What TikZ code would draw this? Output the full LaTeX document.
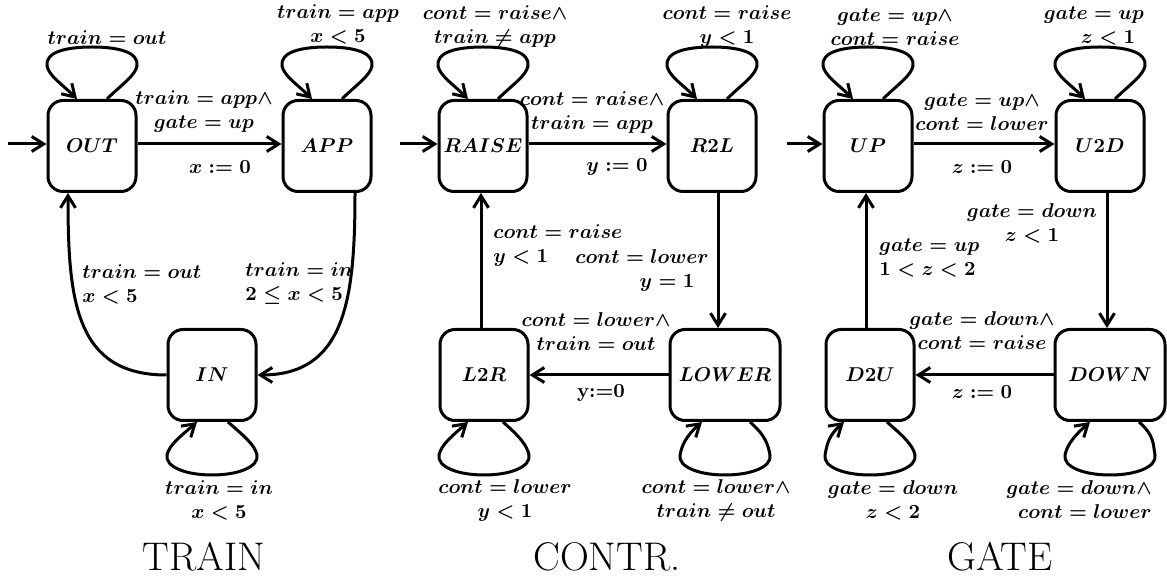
\documentclass[tikz,border=0pt]{standalone}
\usetikzlibrary{arrows.meta,calc}
\tikzset{
  state/.style={draw, line width=1.5pt, rounded corners=7.5pt, minimum width=44pt, minimum height=45.5pt, inner sep=2pt, font=\fontsize{10.2}{13}\selectfont\boldmath},
  wide/.style={minimum width=55pt},
  edge/.style={line width=1.5pt, -{Straight Barb[length=6pt,width=7.5pt]}},
  lab/.style={font=\fontsize{10}{12}\selectfont\boldmath, inner sep=0pt, align=center},
  ttl/.style={font=\fontsize{20}{24}\selectfont, inner sep=0pt},
}
\newcommand\TopLoop[1]{\draw[edge] ($(#1.north)+(15,0)$) .. controls +(14,-14) and +(-2,10) .. ($(#1.north)+(45,-33)$) .. controls +(2,-14) and +(26,0) .. ($(#1.north)+(0,-52)$) .. controls +(-26,0) and +(-2,-14) .. ($(#1.north)+(-45,-33)$) .. controls +(2,10) and +(-14,-14) .. ($(#1.north)+(-15,0)$);}
\newcommand\BotLoop[3]{\draw[edge] ($(#1.south)+(#2,0)$) .. controls +(16,14) and +(-2,-10) .. ($(#1.south)+(45,33)$) .. controls +(2,12) and +(26,0) .. ($(#1.south)+(0,53)$) .. controls +(-26,0) and +(-2,12) .. ($(#1.south)+(-45,33)$) .. controls +(2,-10) and +(-16,14) .. ($(#1.south)+(#3,0)$);}
\begin{document}
\begin{tikzpicture}[x=0.5pt,y=-0.5pt]
\useasboundingbox (0,0) rectangle (1167,576);
% ---------------- TRAIN
\node[state] (OUT) at (92,146) {$OUT$};
\node[state] (APP) at (327,146) {$APP$};
\node[state] (IN) at (212,375) {$IN$};
\coordinate (i1) at (8,144);
\draw[edge] (i1) -- (i1 -| OUT.west);
\draw[edge] ([yshift=1pt]OUT.east) -- ([yshift=1pt]APP.west);
\draw[edge] (IN.west) .. controls (75,375) and (68,300) .. ($(OUT.south)+(-24,0)$);
\draw[edge] ($(APP.south)+(28,0)$) .. controls (355,300) and (345,375) .. (IN.east);
\TopLoop{OUT}
\TopLoop{APP}
\BotLoop{IN}{16}{-15}
\node[lab] (l1) at (107,38) {$train = out$};
\node[lab] (l2) at (338,24) {$train = app$\\$x < 5$};
\node[lab] (l3) at (204,112) {$train = app\wedge$\\$gate = up$};
\node[lab] (l4) at (220,167) {$x := 0$};
\node[lab, anchor=west, align=left] (l5) at (82,284) {$train = out$\\$x < 5$};
\node[lab, anchor=west, align=left] (l6) at (245,284) {$train = in$\\$2 \leq x < 5$};
\node[lab] (l7) at (219,500) {$train = in$\\$x < 5$};
\node[ttl] (t1) at (204,557) {TRAIN};
% ---------------- CONTR.
\node[state] (RAISE) at (483,146) {$RAISE$};
\node[state] (R2L) at (712,146) {$R2L$};
\node[state] (L2R) at (484,375) {$L2R$};
\node[state, wide] (LOWER) at (725,375) {$LOWER$};
\coordinate (i2) at (400,144);
\draw[edge] (i2) -- (i2 -| RAISE.west);
\draw[edge] ([yshift=1pt]RAISE.east) -- ([yshift=1pt]R2L.west);
\coordinate (r2lb) at ($(R2L.south)+(6,0)$);
\draw[edge] (r2lb) -- (r2lb |- LOWER.north);
\draw[edge] (LOWER) -- (L2R);
\coordinate (l2rt) at ($(L2R.north)+(-3,0)$);
\draw[edge] (l2rt) -- (l2rt |- RAISE.south);
\TopLoop{RAISE}
\TopLoop{R2L}
\BotLoop{L2R}{19}{-16}
\BotLoop{LOWER}{25}{-23}
\node[lab] (c1) at (495,27) {$cont = raise\wedge$\\$train \neq app$};
\node[lab] (c2) at (727,27) {$cont = raise$\\$y < 1$};
\node[lab] (c3) at (592,113) {$cont = raise\wedge$\\$train = app$};
\node[lab] (c4) at (617,167) {$y := 0$};
\node[lab, anchor=west, align=left] (c5) at (493,246) {$cont = raise$\\$y < 1$};
\node[lab] (c6) at (642,271) {$cont = lower$\\\hspace*{25pt}$y = 1$};
\node[lab] (c7) at (596,332) {$cont = lower\wedge$\\$train = out$};
\node[lab] (c8) at (601,393) {\textbf{y:=0}};
\node[lab] (c9) at (505,501) {$cont = lower$\\$y < 1$};
\node[lab] (c10) at (716,501) {$cont = lower\wedge$\\$train \neq out$};
\node[ttl] (t2) at (607,557) {CONTR.};
% ---------------- GATE
\node[state] (UP) at (868,146) {$UP$};
\node[state] (U2D) at (1100,146) {$U2D$};
\node[state] (D2U) at (870,375) {$D2U$};
\node[state, wide] (DOWN) at (1110,375) {$DOWN$};
\coordinate (i3) at (787,144);
\draw[edge] (i3) -- (i3 -| UP.west);
\draw[edge] ([yshift=1pt]UP.east) -- ([yshift=1pt]U2D.west);
\coordinate (u2db) at ($(U2D.south)+(7,0)$);
\draw[edge] (u2db) -- (u2db |- DOWN.north);
\draw[edge] (DOWN) -- (D2U);
\coordinate (d2ut) at ($(D2U.north)+(-4,0)$);
\draw[edge] (d2ut) -- (d2ut |- UP.south);
\TopLoop{UP}
\TopLoop{U2D}
\BotLoop{D2U}{17}{-26}
\BotLoop{DOWN}{29}{-20}
\node[lab] (g1) at (895,27) {$gate = up\wedge$\\$cont = raise$};
\node[lab] (g2) at (1094,26) {$gate = up$\\\hspace*{14pt}$z < 1$};
\node[lab] (g3) at (982,112) {$gate = up\wedge$\\$cont = lower$};
\node[lab] (g4) at (982,167) {$z := 0$};
\node[lab] (g5) at (1032,223) {$gate = down$\\$z < 1$};
\node[lab, anchor=west, align=left] (g6) at (879,258) {$gate = up$\\$1 < z < 2$};
\node[lab] (g7) at (982,331) {$gate = down\wedge$\\$cont = raise$};
\node[lab] (g8) at (982,392) {$z := 0$};
\node[lab] (g9) at (893,500) {$gate = down$\\$z < 2$};
\node[lab, anchor=east, align=right] (g10) at (1152,500) {$gate = down\wedge$\\$cont = lower$};
\node[ttl] (t3) at (1000,557) {GATE};
\end{tikzpicture}
\end{document}
